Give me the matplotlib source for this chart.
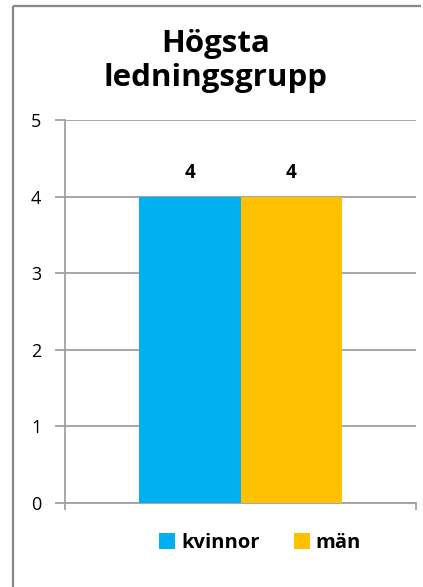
import matplotlib
matplotlib.use("Agg")
import matplotlib.pyplot as plt
from matplotlib.lines import Line2D
from matplotlib.patches import Patch

title = "Högsta\nledningsgrupp"
series = ["kvinnor", "män"]
values = [4, 4]
colors = ["#00B0F0", "#FFC000"]
yticks = [0, 1, 2, 3, 4, 5]

plt.rcParams['font.family'] = ['Open Sans', 'DejaVu Sans']

W, H = 423, 587
fig = plt.figure(figsize=(W / 100, H / 100), dpi=100)

# outer chart border (cropped on right/bottom): only top and left edges visible
bx, by = 12.5 / W, 1 - 5.5 / H
fig.add_artist(Line2D([bx, 421 / W], [by, by], transform=fig.transFigure,
                      color="#888888", linewidth=1.6, solid_capstyle="butt"))
fig.add_artist(Line2D([bx, bx], [0.0, by], transform=fig.transFigure,
                      color="#888888", linewidth=1.6, solid_capstyle="butt"))

ax = fig.add_axes([65 / W, 1 - 503 / H, (416 - 65) / W, (503 - 120) / H])
bw = 0.288
offsets = [-bw / 2, bw / 2]
for v, c, o, s in zip(values, colors, offsets, series):
    ax.bar(o, v, width=bw, color=c, label=s, zorder=3)
    ax.text(o, v + 0.18, str(v), ha="center", va="bottom", fontsize=13.5, fontweight="bold")

ax.set_xlim(-0.5, 0.5)
ax.set_ylim(0, 5)
ax.set_yticks(yticks)
ax.set_yticklabels([str(t) for t in yticks], fontsize=13)
ax.set_xticks([-0.5, 0.5])
ax.set_xticklabels(["", ""])
ax.tick_params(axis="y", length=7, width=1.3, color="#A0A0A0", pad=10)
ax.tick_params(axis="x", length=5, width=1.3, color="#A0A0A0")
ax.grid(axis="y", color="#A0A0A0", linewidth=1.3, zorder=0)
for sp in ["top", "right"]:
    ax.spines[sp].set_visible(False)
for sp in ["left", "bottom"]:
    ax.spines[sp].set_color("#A0A0A0")
    ax.spines[sp].set_linewidth(1.3)

fig.text(216 / W, 1 - 61 / H, title, ha="center", va="center", fontsize=22.5,
         fontweight="bold", linespacing=1.15)

handles = [Patch(facecolor=c, label=s) for c, s in zip(colors, series)]
leg = fig.legend(handles=handles, loc="center", bbox_to_anchor=(260 / W, 1 - 543 / H), ncol=2,
                 frameon=False, prop={"size": 14.5, "weight": "bold"}, handlelength=0.8,
                 handleheight=0.8, handletextpad=0.3, columnspacing=1.7)

fig.savefig("out.png", dpi=100)
